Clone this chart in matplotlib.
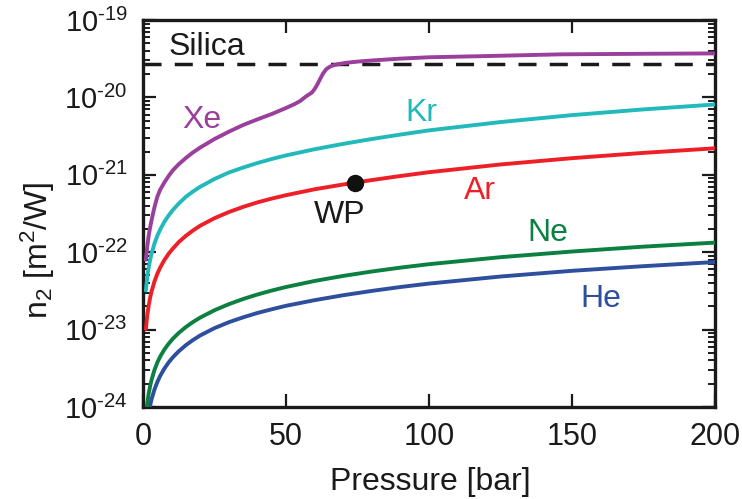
import math
import matplotlib
matplotlib.use('Agg')
import matplotlib.pyplot as plt
from matplotlib.ticker import LogLocator, FixedLocator, NullFormatter, FuncFormatter, NullLocator

plt.rcParams['font.family'] = ['Liberation Sans', 'DejaVu Sans']
plt.rcParams['mathtext.fontset'] = 'custom'
plt.rcParams['mathtext.rm'] = 'Liberation Sans'
plt.rcParams['mathtext.it'] = 'Liberation Sans:italic'
plt.rcParams['mathtext.bf'] = 'Liberation Sans:bold'

# ---------------- data ----------------
pressure = [1, 1.5, 2, 2.5, 3, 4, 5, 6, 7.5, 9, 10.5, 12.5, 15, 17.5, 20, 25, 30,
            35, 40, 45, 50, 60, 70, 80, 90, 100, 125, 150, 175, 200]

n2_he = [4.2e-25, 6.3e-25, 8.4e-25, 1.05e-24, 1.26e-24, 1.68e-24, 2.1e-24, 2.52e-24,
         3.15e-24, 3.78e-24, 4.41e-24, 5.25e-24, 6.3e-24, 7.35e-24, 8.4e-24,
         1.045e-23, 1.245e-23, 1.44e-23, 1.64e-23, 1.83e-23, 2.03e-23, 2.4e-23,
         2.78e-23, 3.16e-23, 3.55e-23, 3.93e-23, 4.85e-23, 5.75e-23, 6.6e-23, 7.46e-23]
n2_ne = [7.5e-25, 1.125e-24, 1.5e-24, 1.875e-24, 2.25e-24, 3.0e-24, 3.75e-24, 4.48e-24,
         5.55e-24, 6.6e-24, 7.67e-24, 9.06e-24, 1.08e-23, 1.255e-23, 1.43e-23,
         1.78e-23, 2.13e-23, 2.485e-23, 2.84e-23, 3.195e-23, 3.55e-23, 4.25e-23,
         4.94e-23, 5.63e-23, 6.32e-23, 7.0e-23, 8.62e-23, 1.02e-22, 1.18e-22, 1.33e-22]
n2_ar = [1.02e-23, 1.54e-23, 2.06e-23, 2.59e-23, 3.12e-23, 4.18e-23, 5.25e-23, 6.33e-23,
         7.95e-23, 9.6e-23, 1.12e-22, 1.35e-22, 1.63e-22, 1.91e-22, 2.2e-22,
         2.75e-22, 3.3e-22, 3.85e-22, 4.4e-22, 4.93e-22, 5.45e-22, 6.5e-22,
         7.5e-22, 8.55e-22, 9.65e-22, 1.08e-21, 1.36e-21, 1.64e-21, 1.92e-21, 2.2e-21]
n2_kr = [3.2e-23, 4.8e-23, 6.4e-23, 8.0e-23, 9.6e-23, 1.29e-22, 1.63e-22, 1.96e-22,
         2.48e-22, 3.0e-22, 3.53e-22, 4.25e-22, 5.2e-22, 6.09e-22, 7.0e-22,
         8.83e-22, 1.07e-21, 1.24e-21, 1.42e-21, 1.6e-21, 1.78e-21, 2.14e-21,
         2.51e-21, 2.9e-21, 3.31e-21, 3.75e-21, 4.8e-21, 5.9e-21, 7.0e-21, 8.1e-21]

pressure_xe = [1, 1.5, 2, 2.5, 3, 4, 5, 6, 7.5, 9, 10.5, 12.5, 15, 17.5, 20, 25, 30,
               35, 40, 45, 50, 53, 55, 57, 58, 59, 60, 61, 62, 63, 64, 65, 66, 68,
               71, 75, 80, 90, 100, 120, 146, 175, 200]
n2_xe = [8.0e-23, 1.2e-22, 1.65e-22, 2.1e-22, 2.6e-22, 3.8e-22, 5.2e-22, 6.4e-22,
         8.0e-22, 9.7e-22, 1.15e-21, 1.37e-21, 1.65e-21, 1.95e-21, 2.25e-21,
         2.9e-21, 3.6e-21, 4.4e-21, 5.2e-21, 6.1e-21, 7.3e-21, 8.2e-21, 9.0e-21,
         1.03e-20, 1.09e-20, 1.15e-20, 1.28e-20, 1.48e-20, 1.75e-20, 2.05e-20,
         2.3e-20, 2.45e-20, 2.56e-20, 2.68e-20, 2.8e-20, 2.9e-20, 3.0e-20, 3.17e-20,
         3.3e-20, 3.42e-20, 3.6e-20, 3.66e-20, 3.7e-20]

n2_silica = 2.7e-20
wp_pressure = 74.3
wp_n2 = 7.85e-22

x_ticks = [0, 50, 100, 150, 200]
y_decades = [1e-24, 1e-23, 1e-22, 1e-21, 1e-20, 1e-19]

# ---------------- style ----------------
c_he = '#2E4E9E'
c_ne = '#0C8040'
c_ar = '#EE2027'
c_kr = '#22B9BA'
c_xe = '#9A3F9C'
ink = '#1a1a1a'
lw = 2.8

fig = plt.figure(figsize=(7.42, 4.99), dpi=100)
ax = fig.add_axes([143/742, 1-407/499, 572/742, 387/499])

ax.plot([0, 200], [n2_silica, n2_silica], color=ink, lw=2.5,
        dashes=(5.2, 3.8), zorder=2)
for p, v, c in [(pressure, n2_he, c_he), (pressure, n2_ne, c_ne),
                (pressure, n2_ar, c_ar), (pressure, n2_kr, c_kr),
                (pressure_xe, n2_xe, c_xe)]:
    ax.plot(p, v, color=c, lw=lw, zorder=3, solid_joinstyle='round',
            solid_capstyle='round')
ax.plot([wp_pressure], [wp_n2], 'o', color='#111111', ms=11.5, zorder=4)

ax.set_yscale('log')
ax.set_xlim(0, 200)
ax.set_ylim(1e-24, 1e-19)

ax.xaxis.set_major_locator(FixedLocator(x_ticks))
ax.xaxis.set_minor_locator(NullLocator())
ax.yaxis.set_major_locator(FixedLocator(y_decades))
ax.yaxis.set_minor_locator(LogLocator(base=10, subs=[2, 3, 4, 5, 6, 7, 8, 9], numticks=20))
ax.yaxis.set_minor_formatter(NullFormatter())

def yfmt(v, pos):
    e = int(round(math.log10(v)))
    return r'$10^{\text{-%d}}$' % (-e)
ax.yaxis.set_major_formatter(FuncFormatter(yfmt))

ax.tick_params(axis='both', which='major', direction='in', length=9.5, width=1.6,
               top=True, right=True, color=ink)
ax.tick_params(axis='both', which='minor', direction='in', length=5, width=1.4,
               top=True, right=True, color=ink)
ax.tick_params(axis='x', which='major', labelsize=22, pad=11, labelcolor=ink)
ax.tick_params(axis='y', which='major', labelsize=21, pad=11, labelcolor=ink)

for s in ax.spines.values():
    s.set_linewidth(2.4)
    s.set_color(ink)

fig.text(430/742, 1-490/499, 'Pressure [bar]', fontsize=23, ha='center',
         va='baseline', color=ink)
fig.text(38/742, 1-250/499, r'n$_2$ [m$^2$/W]', fontsize=23, ha='center',
         va='center', rotation=90, color=ink)

fs = 23
ax.text(22.2, 3.52e-20, 'Silica', fontsize=fs, color=ink, ha='center', va='baseline')
ax.text(20.4, 3.97e-21, 'Xe', fontsize=fs, color=c_xe, ha='center', va='baseline')
ax.text(97.2, 4.98e-21, 'Kr', fontsize=fs, color=c_kr, ha='center', va='baseline')
ax.text(117.7, 4.93e-22, 'Ar', fontsize=fs, color=c_ar, ha='center', va='baseline')
ax.text(68.6, 2.37e-22, 'WP', fontsize=fs, color=ink, ha='center', va='baseline')
ax.text(141.5, 1.4e-22, 'Ne', fontsize=fs, color=c_ne, ha='center', va='baseline')
ax.text(160, 1.95e-23, 'He', fontsize=fs, color=c_he, ha='center', va='baseline')

fig.savefig('out.png', dpi=100)
